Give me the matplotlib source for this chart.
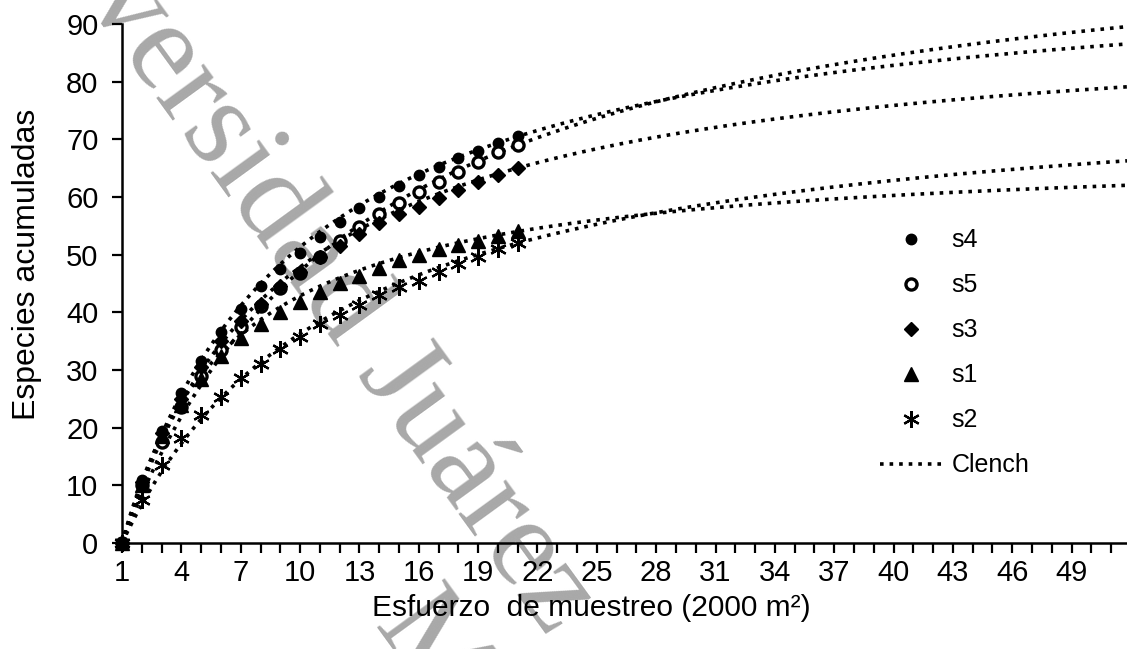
import numpy as np
import matplotlib
matplotlib.use("Agg")
import matplotlib.pyplot as plt
from matplotlib.lines import Line2D

plt.rcParams['font.family'] = ['Liberation Sans', 'DejaVu Sans']

# sampling effort (units of 2000 m2)
esfuerzo = np.arange(1, 22)

# accumulated species per site
s4 = [0, 11, 19.5, 26, 31.5, 36.5, 40.5, 44.5, 47.5, 50.3, 53, 55.7, 58, 60, 61.9,
      63.8, 65.2, 66.8, 68, 69.4, 70.5]
s5 = [0, 10, 17.5, 23.5, 29, 33.5, 37.5, 41, 44.2, 46.8, 49.6, 52.3, 54.8, 57, 59,
      60.8, 62.5, 64.3, 66, 67.8, 69]
s3 = [0, 10.5, 19, 25, 30.5, 35, 38.5, 41.5, 44.5, 47, 49.5, 51.5, 53.5, 55.5, 57,
      58.3, 59.8, 61.2, 62.6, 63.8, 65]
s1 = [0, 10, 18.5, 24, 28.5, 32.5, 35.5, 38, 40, 41.8, 43.5, 45, 46.3, 47.7, 49,
      50, 51, 51.7, 52.3, 53.3, 54]
s2 = [0, 7.5, 13.5, 18.2, 22.2, 25.3, 28.6, 31, 33.7, 35.7, 38, 39.5, 41.3, 43, 44.3,
      45.5, 47, 48.3, 49.6, 51, 52]

# Clench model parameters, S = a*t / (1 + b*t) with t = effort - 1
clench_a = {'s4': 11.53, 's5': 9.12, 's3': 11.07, 's1': 12.68, 's2': 7.32}
clench_b = {'s4': 0.1136, 's5': 0.0822, 's3': 0.1203, 's1': 0.1848, 's2': 0.0908}

series = [('s4', s4), ('s5', s5), ('s3', s3), ('s1', s1), ('s2', s2)]
estilos = {
    's4': dict(marker='o', markersize=7.5, markerfacecolor='black', markeredgecolor='black'),
    's5': dict(marker='o', markersize=8, markerfacecolor='white', markeredgecolor='black', markeredgewidth=2.4),
    's3': dict(marker='D', markersize=7, markerfacecolor='black', markeredgecolor='black'),
    's1': dict(marker='^', markersize=9.5, markerfacecolor='black', markeredgecolor='black'),
    's2': dict(marker=(6, 2, 0), markersize=12, markerfacecolor='black', markeredgecolor='black', markeredgewidth=1.6),
}

fig = plt.figure(figsize=(11.27, 6.49), dpi=100)
ax = fig.add_axes([0.1083, 0.1633, 0.8917, 0.800])
ax.patch.set_alpha(0)

t_curve = np.linspace(1, 51.8, 300)
for nombre, valores in series:
    a = clench_a[nombre]
    b = clench_b[nombre]
    t = t_curve - 1
    ax.plot(t_curve, a * t / (1 + b * t), color='black', linestyle=':', linewidth=2.6, zorder=2)
    ax.plot(esfuerzo, valores, linestyle='none', zorder=3, clip_on=False, **estilos[nombre])

ax.set_xlim(1, 51.8)
ax.set_ylim(0, 90)
ax.set_yticks(np.arange(0, 91, 10))
ax.set_xticks(np.arange(1, 52))
ax.set_xticklabels([str(v) if (v - 1) % 3 == 0 else '' for v in range(1, 52)])

for lado in ['top', 'right']:
    ax.spines[lado].set_visible(False)
for lado in ['left', 'bottom']:
    ax.spines[lado].set_linewidth(1.8)

ax.tick_params(axis='y', length=7.5, width=1.6, labelsize=21, pad=9.5)
ax.tick_params(axis='x', length=7.5, width=1.6, labelsize=21, pad=4)

ax.set_ylabel('Especies acumuladas', fontsize=23)
ax.yaxis.set_label_coords(-0.080, 0.536)
ax.set_xlabel('Esfuerzo  de muestreo (2000 m²)', fontsize=21.5)
ax.xaxis.set_label_coords(0.467, -0.098)

handles = [Line2D([], [], linestyle='none', **estilos[n]) for n, _ in series]
handles.append(Line2D([], [], color='black', linestyle=':', linewidth=2.6))
labels = [n for n, _ in series] + ['Clench']
ax.legend(handles, labels, loc='center left', bbox_to_anchor=(0.744, 0.366),
          frameon=False, fontsize=18, labelspacing=0.84, handlelength=2.48,
          handletextpad=0.4, borderaxespad=0)

# watermark
fig.text(0.2525, 0.658, 'Universidad Juárez', fontsize=92, family='Liberation Serif',
         color='#a8a8a8', rotation=-54, ha='center', va='center', zorder=-1)
fig.text(0.330, 0.035, 'México', fontsize=92, family='Liberation Serif',
         color='#a8a8a8', rotation=-54, rotation_mode='anchor', ha='left', va='baseline', zorder=-1)

fig.savefig('out.png', dpi=100)
